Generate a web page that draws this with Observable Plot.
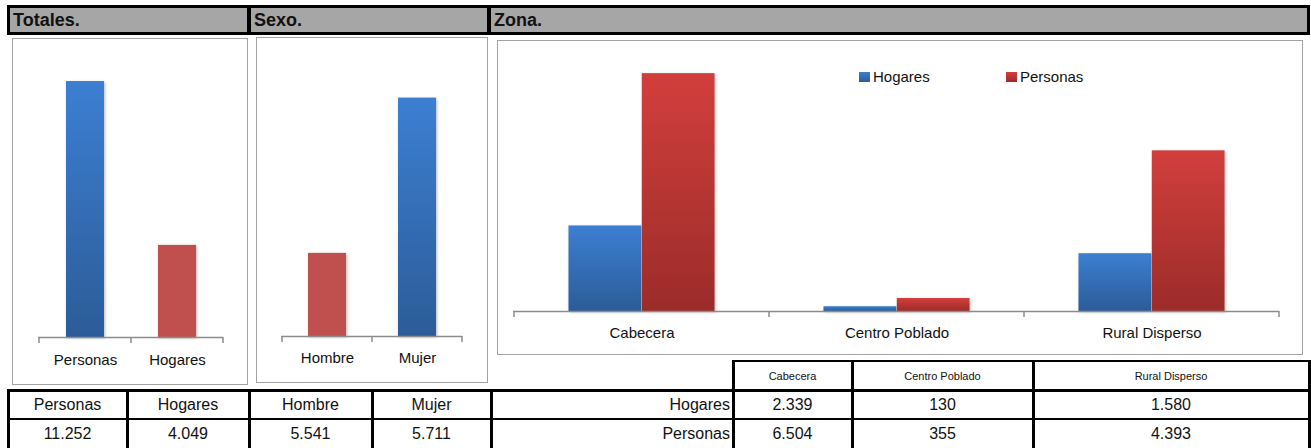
<!DOCTYPE html>
<html><head><meta charset="utf-8">
<script src="https://cdn.jsdelivr.net/npm/d3@7"></script>
<script src="https://cdn.jsdelivr.net/npm/@observablehq/plot@0.6"></script>
<style>
html,body{margin:0;padding:0;background:#fff;}
#root{position:relative;width:1311px;height:448px;overflow:hidden;font-family:"Liberation Sans",Arial,sans-serif;color:#111;background:#fff;}
.abs{position:absolute;}
.panel{position:absolute;border:1.5px solid #a3a3a3;box-sizing:border-box;background:#fff;}
.line{position:absolute;background:#000;}
.cell{position:absolute;display:flex;align-items:center;justify-content:center;font-size:16px;white-space:nowrap;}
.title{position:absolute;font-weight:bold;font-size:18px;line-height:24px;white-space:nowrap;}
.chart svg g[aria-label="bar"] rect{filter:drop-shadow(1.5px 1px 1.5px rgba(0,0,0,0.28));}
.leg{position:absolute;font-size:15px;line-height:16px;white-space:nowrap;}
.sw{position:absolute;width:11px;height:10px;}
</style>
</head><body><div id="root"></div>
<script>
// ---- data ----
const totCats = ["Personas", "Hogares"];
const totVals = [11252, 4049];
const sexoCats = ["Hombre", "Mujer"];
const sexoVals = [5541, 5711];
const zonas = ["Cabecera", "Centro Poblado", "Rural Disperso"];
const zonaHogares = [2339, 130, 1580];
const zonaPersonas = [6504, 355, 4393];
const zonaSeries = ["Hogares", "Personas"];
const sectionTitles = ["Totales.", "Sexo.", "Zona."];
const totAxis = [0, 12000];
const sexoAxis = [5450, 5750];
const zonaAxis = [0, 7000];

const root = document.getElementById("root");
const FONT = '"Liberation Sans", Arial, sans-serif';
const AXIS = "#8c8c8c";
const RED_FLAT = "#c0504d";
const fmt = d3.formatLocale({decimal: ",", thousands: ".", grouping: [3], currency: ["$", ""]}).format(",");

function el(cls, css, text) {
  const d = document.createElement("div");
  d.className = cls;
  Object.assign(d.style, css);
  if (text != null) d.textContent = text;
  root.appendChild(d);
  return d;
}

// ---- header bar ----
el("abs", {left: "7px", top: "5px", width: "1303px", height: "30px", background: "#a6a6a6", border: "3px solid #000", boxSizing: "border-box"});
el("line", {left: "247px", top: "5px", width: "4px", height: "30px"});
el("line", {left: "487px", top: "5px", width: "4px", height: "30px"});
[13, 254, 494].forEach((x, i) => el("title", {left: x + "px", top: "8px"}, sectionTitles[i]));

// ---- panels ----
el("panel", {left: "12px", top: "38px", width: "236px", height: "347px"});
el("panel", {left: "256px", top: "37px", width: "232px", height: "346px"});
el("panel", {left: "497px", top: "40px", width: "806px", height: "315px"});

function gradDefs(prefix) {
  return () => {
    const defs = d3.create("svg:defs");
    const mk = (id, top, bottom) => {
      const g = defs.append("linearGradient").attr("id", id).attr("x1", 0).attr("y1", 0).attr("x2", 0).attr("y2", 1);
      g.append("stop").attr("offset", "0%").attr("stop-color", top);
      g.append("stop").attr("offset", "100%").attr("stop-color", bottom);
    };
    mk(prefix + "-blue", "#3c7fd2", "#2c5c98");
    mk(prefix + "-red", "#d23f3c", "#9b2c2a");
    return defs.node();
  };
}

function bandTicks() {
  return (index, scales, values, dimensions) => {
    const x = scales.x;
    const y0 = dimensions.height - dimensions.marginBottom;
    const dom = x.domain();
    const edges = dom.map(d => x(d)).concat([x(dom[dom.length - 1]) + x.bandwidth()]);
    const g = d3.create("svg:g");
    g.selectAll("line").data(edges).join("line")
      .attr("x1", d => d).attr("x2", d => d).attr("y1", y0).attr("y2", y0 + 6)
      .attr("stroke", AXIS).attr("stroke-width", 1.5);
    return g.node();
  };
}

function place(svg, left, top) {
  const wrap = el("abs chart", {left: left + "px", top: top + "px"});
  wrap.appendChild(svg);
}

const baseStyle = {background: "transparent", fontFamily: FONT, fontSize: "15px", color: "#111", overflow: "visible"};

// ---- Totales ----
const totData = totCats.map((c, i) => ({cat: c, v: totVals[i]}));
place(Plot.plot({
  width: 236, height: 347, marginLeft: 26, marginRight: 25, marginTop: 26, marginBottom: 48,
  style: baseStyle,
  x: {domain: totCats, padding: 0},
  y: {domain: totAxis, axis: null},
  color: {type: "identity"},
  marks: [
    gradDefs("tot"),
    Plot.barY(totData, {x: "cat", y: "v", fill: d => d.cat === "Personas" ? "url(#tot-blue)" : RED_FLAT, insetLeft: 27, insetRight: 27}),
    Plot.ruleY([totAxis[0]], {stroke: AXIS, strokeWidth: 1.5}),
    bandTicks(),
    Plot.axisX({tickSize: 0, tickPadding: 17, fontSize: 15, label: null})
  ]
}), 12, 38);

// ---- Sexo ----
const sexoData = sexoCats.map((c, i) => ({cat: c, v: sexoVals[i]}));
place(Plot.plot({
  width: 232, height: 346, marginLeft: 25, marginRight: 26, marginTop: 25, marginBottom: 47,
  style: baseStyle,
  x: {domain: sexoCats, padding: 0},
  y: {domain: sexoAxis, axis: null},
  color: {type: "identity"},
  marks: [
    gradDefs("sexo"),
    Plot.barY(sexoData, {x: "cat", y1: () => sexoAxis[0], y2: "v", fill: d => d.cat === "Mujer" ? "url(#sexo-blue)" : RED_FLAT, insetLeft: 26, insetRight: 26}),
    Plot.ruleY([sexoAxis[0]], {stroke: AXIS, strokeWidth: 1.5}),
    bandTicks(),
    Plot.axisX({tickSize: 0, tickPadding: 16, fontSize: 15, label: null})
  ]
}), 256, 37);

// ---- Zona ----
const zonaData = [];
zonas.forEach((z, i) => {
  zonaData.push({zona: z, serie: zonaSeries[0], v: zonaHogares[i]});
  zonaData.push({zona: z, serie: zonaSeries[1], v: zonaPersonas[i]});
});
place(Plot.plot({
  width: 806, height: 315, marginLeft: 16, marginRight: 24, marginTop: 15, marginBottom: 44,
  style: baseStyle,
  x: {domain: zonas, padding: 0},
  y: {domain: zonaAxis, axis: null},
  marks: [
    gradDefs("zona"),
    Plot.barY(zonaData.filter(d => d.serie === "Hogares"), {x: "zona", y: "v", fill: "url(#zona-blue)", insetLeft: 54.5, insetRight: 127.8}),
    Plot.barY(zonaData.filter(d => d.serie === "Personas"), {x: "zona", y: "v", fill: "url(#zona-red)", insetLeft: 127.8, insetRight: 54.5}),
    Plot.ruleY([zonaAxis[0]], {stroke: AXIS, strokeWidth: 1.5}),
    bandTicks(),
    Plot.axisX({tickSize: 0, tickPadding: 16, fontSize: 15, label: null})
  ]
}), 497, 40);

// legend
el("sw", {left: "859px", top: "72px", background: "linear-gradient(#3c7fd2,#2c5c98)"});
el("leg", {left: "873px", top: "69px"}, zonaSeries[0]);
el("sw", {left: "1006px", top: "72px", background: "linear-gradient(#d23f3c,#9b2c2a)"});
el("leg", {left: "1020px", top: "69px"}, zonaSeries[1]);

// ---- tables ----
const leftCols = [8, 127, 249, 372, 491];
const leftHeads = totCats.concat(sexoCats);
const leftVals = totVals.concat(sexoVals);
leftHeads.forEach((h, i) => {
  const x0 = leftCols[i], x1 = leftCols[i + 1];
  el("cell", {left: x0 + "px", top: "391px", width: (x1 - x0) + "px", height: "27px"}, h);
  el("cell", {left: x0 + "px", top: "420px", width: (x1 - x0) + "px", height: "28px"}, fmt(leftVals[i]));
});
const rightCols = [733, 852, 1033, 1309];
zonas.forEach((z, i) => {
  const x0 = rightCols[i], x1 = rightCols[i + 1];
  el("cell", {left: x0 + "px", top: "362px", width: (x1 - x0) + "px", height: "27px", fontSize: "11px"}, z);
  el("cell", {left: x0 + "px", top: "391px", width: (x1 - x0) + "px", height: "27px"}, fmt(zonaHogares[i]));
  el("cell", {left: x0 + "px", top: "420px", width: (x1 - x0) + "px", height: "28px"}, fmt(zonaPersonas[i]));
});
el("cell", {left: "491px", top: "391px", width: "239px", height: "27px", justifyContent: "flex-end"}, zonaSeries[0]);
el("cell", {left: "491px", top: "420px", width: "239px", height: "28px", justifyContent: "flex-end"}, zonaSeries[1]);

// grid lines
el("line", {left: "7px", top: "389px", width: "1303px", height: "2.5px"});
el("line", {left: "7px", top: "417.5px", width: "1303px", height: "2.5px"});
el("line", {left: "732px", top: "359.5px", width: "578px", height: "2.5px"});
[7, 126, 248, 371, 490].forEach(x => el("line", {left: x + "px", top: "389px", width: "2.5px", height: "60px"}));
[732, 851, 1032, 1308].forEach(x => el("line", {left: x + "px", top: "359.5px", width: "2.5px", height: "90px"}));
</script>
</body></html>
